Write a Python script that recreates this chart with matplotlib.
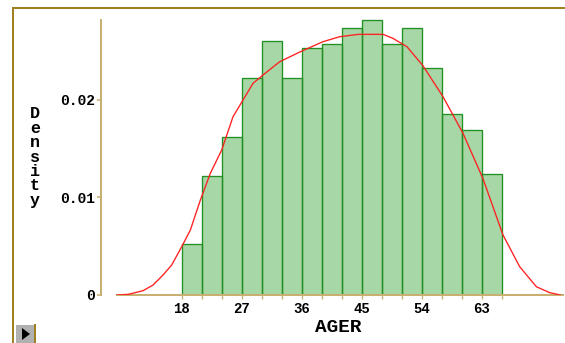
import matplotlib.pyplot as plt
from matplotlib.lines import Line2D
from matplotlib.patches import Rectangle, Polygon
import numpy as np

# Histograma de AGER (densidad), intervalos de 3 años
bin_edges = [18, 21, 24, 27, 30, 33, 36, 39, 42, 45, 48, 51, 54, 57, 60, 63, 66]
densidad = [0.0052, 0.0122, 0.0162, 0.0222, 0.0260, 0.0222, 0.0253, 0.0257,
            0.0273, 0.0282, 0.0257, 0.0273, 0.0232, 0.0185, 0.0169, 0.0124]

# Curva de densidad suavizada
curva_x = [8.3, 10.0, 12.2, 13.7, 15.2, 16.5, 18.0, 19.3, 20.8, 22.3, 24.0,
           25.7, 27.5, 28.7, 30.2, 32.7, 35.7, 39.2, 41.7, 44.5, 48.2, 49.7,
           51.8, 54.2, 57.2, 60.2, 63.2, 66.2, 68.7, 71.2, 73.2, 74.8]
curva_y = [0.0, 0.00007, 0.00044, 0.00102, 0.00205, 0.00307, 0.00494, 0.00665,
           0.00972, 0.01246, 0.01484, 0.01825, 0.0203, 0.02167, 0.02252, 0.02388,
           0.02487, 0.02593, 0.02644, 0.02668, 0.02668, 0.02627, 0.02541, 0.02346,
           0.0203, 0.01655, 0.0119, 0.00614, 0.0029, 0.00085, 0.00024, 0.0]

yticks = [0, 0.01, 0.02]
ytick_labels = ['0', '0.01', '0.02']
xticks_label = [18, 27, 36, 45, 54, 63]

W, H = 565, 343
DPI = 96  # el patrón de trama queda en 2 px exactos
ejes_color = '#c8b070'
borde_color = '#a08020'
mono = 'Liberation Mono'

plt.rcParams['hatch.linewidth'] = 0.5

fig = plt.figure(figsize=(W / DPI, H / DPI), dpi=DPI)
left = 100.7 / W
bottom = (H - 295) / H
ax = fig.add_axes([left, bottom, 1 - left, (295 - 11.7) / H])

ax.set_xlim(5.85, 75.5)
ax.set_ylim(0, 0.029)

anchos = np.diff(bin_edges)
# relleno con trama fina
ax.bar(bin_edges[:-1], densidad, width=anchos, align='edge',
       facecolor='#ffffff', edgecolor='#7cc47c', linewidth=0, hatch='++++++++')
# contorno de las barras
ax.bar(bin_edges[:-1], densidad, width=anchos, align='edge',
       facecolor='none', edgecolor='#229022', linewidth=1)

ax.plot(curva_x, curva_y, color='#ff2020', linewidth=1, zorder=5)

# Ejes separados, estilo de la figura original
for s in ['top', 'right']:
    ax.spines[s].set_visible(False)
ax.spines['left'].set_color(ejes_color)
ax.spines['bottom'].set_color(ejes_color)
ax.spines['left'].set_linewidth(1.5)
ax.spines['bottom'].set_linewidth(1.5)
ax.spines['left'].set_bounds(0, 0.0281)
ax.spines['bottom'].set_bounds(8.3, 75.2)

ax.set_yticks(yticks)
ax.set_yticklabels(ytick_labels, fontfamily=mono, fontweight='bold', fontsize=11)
ax.set_xticks(bin_edges, minor=True)
ax.set_xticks(xticks_label)
ax.set_xticklabels([str(v) for v in xticks_label], fontfamily=mono,
                   fontweight='bold', fontsize=10.5)
ax.tick_params(axis='y', direction='out', length=3, width=1.2, color=ejes_color, pad=1)
ax.tick_params(axis='x', which='both', direction='out', length=3, width=1,
               color=ejes_color, pad=2)
ax.patch.set_alpha(0)

fig.text(338 / W, 1 - 328 / H, 'AGER', fontfamily=mono, fontweight='bold',
         fontsize=14.5, ha='center', va='center')
fig.text(35 / W, 1 - 157 / H, '\n'.join('Density'), fontfamily=mono,
         fontweight='bold', fontsize=12.5, ha='center', va='center',
         multialignment='center', linespacing=0.95)

# Marco exterior y botón
fig.add_artist(Line2D([13 / W, 1], [1 - 8 / H, 1 - 8 / H], color=borde_color, lw=1.5))
fig.add_artist(Line2D([13 / W, 13 / W], [0, 1 - 8 / H], color=borde_color, lw=1.5))
fig.add_artist(Rectangle((16 / W, 0), 19 / W, 18 / H, facecolor='#b0b0b0',
                         edgecolor='none'))
fig.add_artist(Line2D([35 / W, 35 / W], [0, 18 / H], color=borde_color, lw=1.5))
fig.add_artist(Polygon([[22 / W, 3 / H], [22 / W, 15 / H], [30 / W, 9 / H]],
                       closed=True, facecolor='black', edgecolor='none'))

fig.savefig('out.png', dpi=DPI)
